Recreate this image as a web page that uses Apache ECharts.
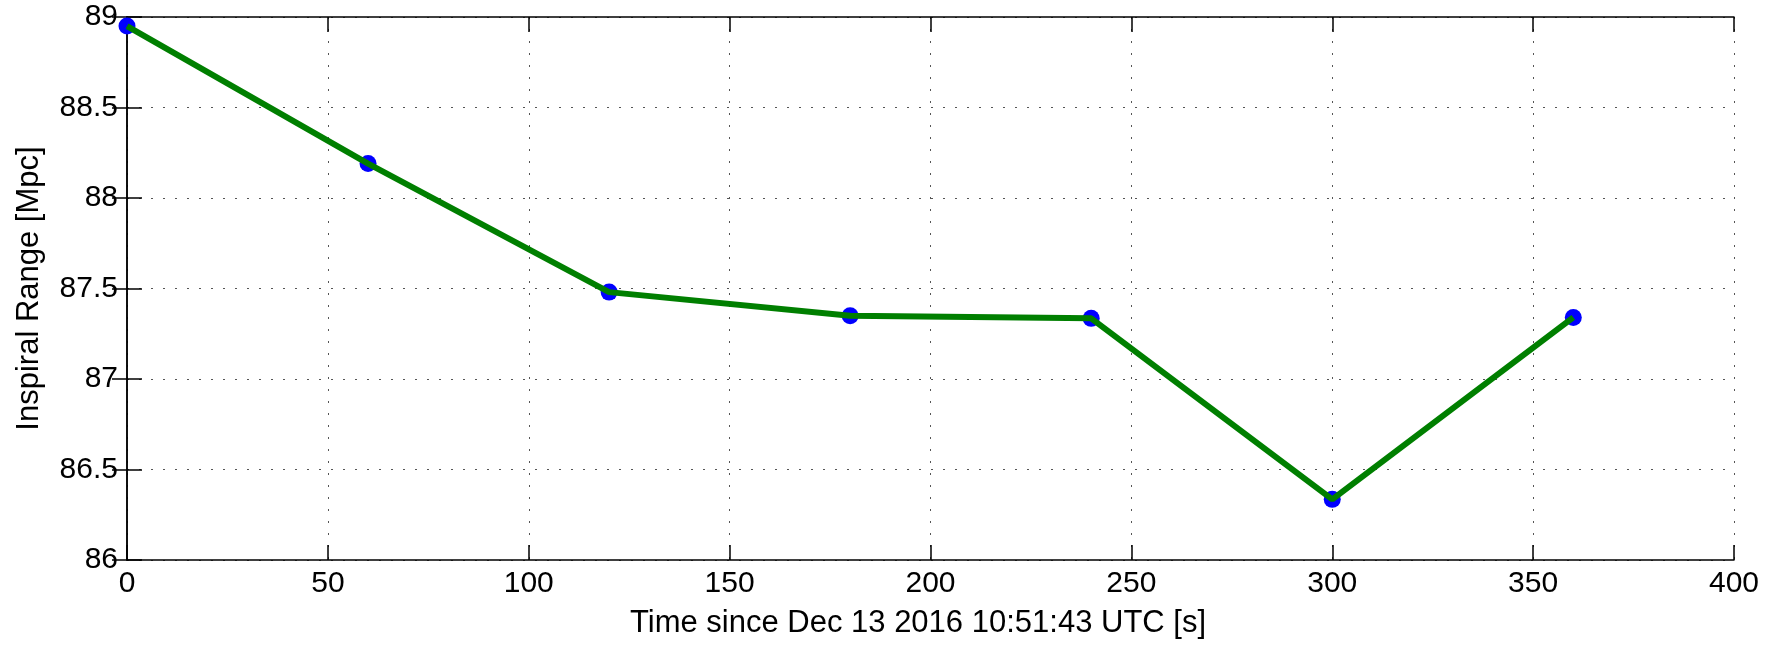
<!DOCTYPE html>
<html>
<head>
<meta charset="utf-8">
<style>
  html, body { margin: 0; padding: 0; background: #fff; }
  #chart { width: 1783px; height: 647px; }
</style>
<script src="https://cdn.jsdelivr.net/npm/echarts@6/dist/echarts.min.js"></script>
</head>
<body>
<div id="chart"></div>
<script>
// data
const times = [0, 60, 120, 180, 240, 300, 360]
const ranges = [88.95, 88.19, 87.48, 87.35, 87.335, 86.335, 87.34]

const xTicks = { min: 0, max: 400, interval: 50 }
const yTicks = { min: 86, max: 89, interval: 0.5 }

const xTitle = 'Time since Dec 13 2016 10:51:43 UTC [s]'
const yTitle = 'Inspiral Range [Mpc]'

const font = 'Liberation Sans, Arial, Helvetica, sans-serif'
const points = times.map((t, i) => [t, ranges[i]])

const frameLine = { show: true, lineStyle: { color: '#000', width: 1.5 } }
const innerTick = { show: true, inside: true, length: 15, lineStyle: { color: '#000', width: 1.5 } }
const dotted = { show: true, lineStyle: { color: '#555', width: 1, type: [2, 10] } }

const chart = echarts.init(document.getElementById('chart'))

const option = {
  animation: false,
  backgroundColor: '#fff',
  grid: { left: 127, right: 49, top: 17, bottom: 87, containLabel: false },
  xAxis: [
    {
      type: 'value',
      ...xTicks,
      position: 'bottom',
      name: xTitle,
      nameLocation: 'middle',
      nameGap: 48,
      nameTextStyle: { color: '#000', fontSize: 31, fontFamily: font, padding: [0, 25, 0, 0] },
      axisLine: frameLine,
      axisTick: innerTick,
      axisLabel: { color: '#000', fontSize: 30, fontFamily: font, margin: 9 },
      splitLine: dotted
    },
    {
      type: 'value',
      ...xTicks,
      position: 'top',
      axisLine: frameLine,
      axisTick: innerTick,
      axisLabel: { show: false },
      splitLine: { show: false }
    }
  ],
  yAxis: [
    {
      type: 'value',
      ...yTicks,
      position: 'left',
      name: yTitle,
      nameLocation: 'middle',
      nameGap: 82,
      nameTextStyle: { color: '#000', fontSize: 31, fontFamily: font },
      axisLine: frameLine,
      axisTick: innerTick,
      axisLabel: { color: '#000', fontSize: 30, fontFamily: font, margin: 9 },
      splitLine: dotted
    },
    {
      type: 'value',
      ...yTicks,
      position: 'right',
      axisLine: frameLine,
      axisTick: innerTick,
      axisLabel: { show: false },
      splitLine: { show: false }
    }
  ],
  series: [
    {
      name: 'markers',
      type: 'scatter',
      data: points,
      symbol: 'circle',
      symbolSize: 17,
      itemStyle: { color: '#0000ff', opacity: 1 },
      z: 2
    },
    {
      name: 'range',
      type: 'line',
      data: points,
      showSymbol: false,
      lineStyle: { color: '#007f00', width: 6 },
      z: 3
    }
  ]
}

chart.setOption(option)
</script>
</body>
</html>
